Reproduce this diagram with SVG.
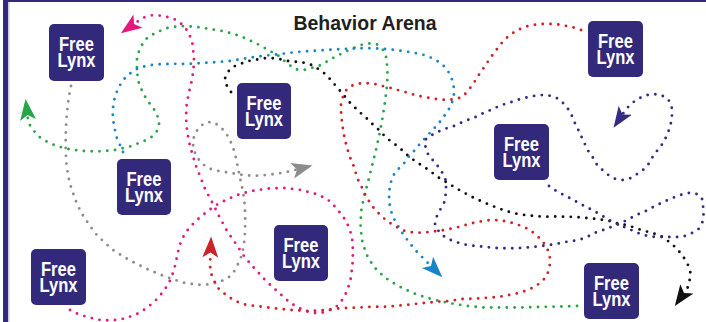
<svg xmlns="http://www.w3.org/2000/svg" width="706" height="322" viewBox="0 0 706 322">
<style>
.trk{fill:none;stroke-width:2.9;stroke-linecap:round;stroke-linejoin:round;stroke-dasharray:0 7.8}
.node rect{fill:#33297a}
.node text{fill:#ffffff;font-family:"Liberation Sans",Arial,sans-serif;font-weight:bold;font-size:19.5px;text-anchor:middle}
.title{fill:#231f20;font-family:"Liberation Sans",Arial,sans-serif;font-weight:bold;font-size:21px;text-anchor:middle}
</style>
<defs>
<marker id="aG" viewBox="0 0 22 18" refX="5" refY="9" markerWidth="22" markerHeight="18" markerUnits="userSpaceOnUse" orient="auto"><path d="M0,1 L21,9 L0,17 L5,9 Z" fill="#27a548"/></marker>
<marker id="aM" viewBox="0 0 22 18" refX="5" refY="9" markerWidth="22" markerHeight="18" markerUnits="userSpaceOnUse" orient="auto"><path d="M0,1 L21,9 L0,17 L5,9 Z" fill="#e2187f"/></marker>
<marker id="aY" viewBox="0 0 22 18" refX="5" refY="9" markerWidth="22" markerHeight="18" markerUnits="userSpaceOnUse" orient="auto"><path d="M0,1 L21,9 L0,17 L5,9 Z" fill="#8c8c8c"/></marker>
<marker id="aB" viewBox="0 0 22 18" refX="5" refY="9" markerWidth="22" markerHeight="18" markerUnits="userSpaceOnUse" orient="auto"><path d="M0,1 L21,9 L0,17 L5,9 Z" fill="#1a84c9"/></marker>
<marker id="aK" viewBox="0 0 22 18" refX="5" refY="9" markerWidth="22" markerHeight="18" markerUnits="userSpaceOnUse" orient="auto"><path d="M0,1 L21,9 L0,17 L5,9 Z" fill="#111111"/></marker>
<marker id="aR" viewBox="0 0 22 18" refX="5" refY="9" markerWidth="22" markerHeight="18" markerUnits="userSpaceOnUse" orient="auto"><path d="M0,1 L21,9 L0,17 L5,9 Z" fill="#cc2229"/></marker>
<marker id="aN" viewBox="0 0 22 18" refX="5" refY="9" markerWidth="22" markerHeight="18" markerUnits="userSpaceOnUse" orient="auto"><path d="M0,1 L21,9 L0,17 L5,9 Z" fill="#352a84"/></marker>
</defs>
<rect x="0" y="0" width="706" height="322" fill="#ffffff"/>
<g id="frame">
<rect x="3" y="0" width="703" height="2" fill="#33297a"/>
<rect x="3" y="0" width="5" height="322" fill="#33297a"/>
<rect x="8.5" y="2" width="0.8" height="320" fill="#9d98c6"/>
</g>
<text class="title" x="365" y="29.5" textLength="143" lengthAdjust="spacingAndGlyphs">Behavior Arena</text>
<g id="connectors">
<path id="green" class="trk" stroke="#27a548" marker-end="url(#aG)" d="M577,306 L560,306.5 L540,307 L520,307.5 L500,307.5 L482,307.5 L464,305.5 L449,303 L433,299.5 L418,295 L403,288.5 L389,280.5 L377,270.5 L368,258 L362.5,243 L360.5,228 L361,212 L364,197 L368,182 L372,166 L376,150 L379.5,134 L382.5,118 L385,102 L387,86 L387.5,72 L386.5,58 L383,50 L377,44.5 L369,43.5 L361,45 L347,51 L333,58 L319,66 L304,70 L296,69.5 L288,64 L278,55.5 L270,51 L255,42.7 L240,36 L225,31.5 L210,29 L195,26.7 L180,26 L167,28 L155,33 L146,39 L140,48 L137,58 L137,72 L139,84 L144,95 L150,104 L156,112 L159.5,122 L157,131 L151,137.5 L143,141.5 L130,146.5 L115,150 L98,151.5 L82,151 L65,148.5 L50,143.5 L40,137.5 L33,130 L28.5,123 L27.5,115"/>
<path id="magenta" class="trk" stroke="#e2187f" marker-end="url(#aM)" d="M70,310 L78,314 L87,317 L100,320 L112,320.5 L125,318.5 L137,314 L147,308 L156,300 L163,292 L168.5,284 L172,276 L175,266 L178,252 L181,241 L186,232 L191,226 L197,220 L203,215 L210,209.5 L218,204 L229,198.5 L240,194 L252,191 L268,188.5 L285,188 L301,190 L316,194 L324,197.5 L331,202 L336,208 L341,214 L346,221 L349.5,229 L352,237 L353,251 L352.5,265 L350.5,280 L347.5,290 L343,299 L337,306 L328,311 L319,313.5 L310,312.5 L299,308 L290,302.7 L278,292 L266,281 L255,269 L245,257.5 L236,244 L227,231 L220,218 L213,204 L205,189 L200,176 L196,166 L192,153 L189,142 L187,130 L186,118 L186.5,106 L188.5,94 L191.5,82 L193.5,70 L194,58 L192.5,44 L189,33 L183,25 L175,19.5 L163,15.7 L152,15.3 L144,17.5 L139,20.5 L134,24"/>
<path id="gray" class="trk" stroke="#8c8c8c" marker-end="url(#aY)" d="M71,86 L69,96 L67.5,108 L66.3,120 L65.7,135 L65.7,150 L66.3,163 L68,175 L70,184 L73,193 L77,204 L82,214 L88,223 L95,233 L103,241 L113,250 L124,257 L136,263.5 L148,269.5 L160,274.5 L172,279 L185,283 L198,284.8 L210,284.3 L220,281.7 L228,278 L233.5,272.5 L237,266 L240.5,259 L242.5,252 L244,244 L245,232 L245.2,220 L245,208 L244,198 L242,187 L240,178 L238,168 L236,158 L233,147 L229,138 L224,130.5 L218,125 L211.5,121.7 L204,123.3 L198,129 L194,136 L193,144 L194,151 L197.5,158 L202,163.5 L207,167.3 L213,170 L220,171.2 L228,172.5 L236,174 L245,175.3 L255,175.8 L266,175 L276,173.8 L286,172.3 L297,169.5"/>
<path id="blue" class="trk" stroke="#1a84c9" marker-end="url(#aB)" d="M123,152 L119.5,144 L116.5,137 L114.5,128 L113,119 L112.7,111 L113.5,103 L115.5,95 L118.5,88 L122,81.5 L127,76 L133,71 L140,67.5 L149,65.3 L158,64.4 L170,63.8 L185,64 L200,63.2 L215,62.2 L230,61 L246,58.3 L262,56 L278,54.3 L294,52.3 L310,51 L326,50 L342,49 L358,48.3 L374,48.3 L390,49.3 L406,51.5 L421,54 L429,56.8 L436,60 L443,65 L448,71 L451.5,78 L453.5,85 L454.3,92 L453,100 L450,107.5 L445,115 L440,121.7 L434,128.5 L428,135 L421,142.5 L414,151 L408,157.5 L403,165 L396,171 L392,178 L390,186 L389,194 L389.3,203 L391,211 L393.5,218 L397.5,225 L402,232.5 L407,239.5 L412,246 L418,253 L424,259 L431,266"/>
<path id="black" class="trk" stroke="#111111" marker-end="url(#aK)" d="M231,92 L226.5,85 L225,78.3 L229,70.7 L235,66 L242,63.3 L250,60.7 L258,59.3 L265,58.3 L273,58.3 L281,59.3 L288,61 L296,61.7 L304,62.7 L312,65 L318.3,69 L324.3,73.3 L330,79 L335,85 L340,90.7 L345,96.7 L350,102.7 L355.7,108.3 L361.7,114 L367.7,119.3 L373.3,125 L379,130 L384.3,135.7 L390,140.7 L396.7,145.7 L402.7,150.7 L408.3,156 L415,161 L421,165 L427.7,169.3 L434.3,174.3 L441,179.3 L447.3,182.7 L454,187 L461,191 L468.3,195 L475,198.3 L482.3,201.7 L490,205 L497,207.7 L504,210.3 L512,212.7 L519.3,214.3 L527.3,215.3 L535,216 L543.3,216.7 L558.3,216.5 L575,217 L590.7,218.3 L606.7,220.3 L615,222.7 L622.3,224.3 L630,226 L637,228.7 L645,231 L653,233.3 L661,236 L668,241 L674,246 L679.3,251.7 L684,258 L688,265 L690.5,273 L689.5,281 L687.5,288 L684,293"/>
<path id="red" class="trk" stroke="#cc2229" marker-end="url(#aR)" d="M581,30 L573,27.3 L565,25.7 L557,24.3 L549,24 L541,24 L533,25 L525,26.7 L517.7,30 L511,34.3 L505,39.3 L500,45 L495,51.7 L490,58.3 L485.7,65 L481,71.7 L476.7,78.3 L472.5,85 L467,92 L461.7,97.3 L454,99.3 L446,100 L438,99.3 L430.7,98.3 L422.7,96.7 L415,95 L407.7,92.7 L400,90.7 L392.3,88.3 L385,86.7 L376.7,84.3 L369,83.3 L361,83.3 L353.3,85 L346.7,89.3 L343,96.7 L341,104 L341,111.7 L341.7,119.3 L342.7,127.3 L344,135 L345.5,142 L347.7,150 L350,157.3 L353.3,165 L355.7,172.7 L358.3,180.3 L361.7,187 L365,194.3 L369.3,201.7 L374,208.3 L379,213.7 L385,219.3 L391,223.7 L397.7,227.7 L405,231 L413.3,232.5 L421,232.7 L429,232 L437,231 L445,230 L452.7,228.3 L460,226.7 L468,224.3 L475,222.5 L483,221 L491,220 L499,220.2 L506.7,221.5 L514.3,223.5 L521.7,226 L529,229.5 L535,234 L540.7,239.3 L545.7,245.5 L549,252.7 L550.3,260.3 L549.3,268.3 L546.7,276 L541.7,281.7 L535,286.7 L527.7,290 L520,292.7 L512.3,294.3 L504.3,296 L496.7,297 L488.3,297.7 L473.3,298.7 L464.3,298.7 L449.3,301 L433.3,302 L417.7,303.7 L401.7,305.3 L386.7,306.7 L371,306.8 L355,307.7 L339.3,308.3 L323.3,310.3 L307.7,311 L291.7,310 L276.7,308.5 L260.5,306.5 L251.7,305.5 L244.3,304.3 L237.3,301.7 L230,297.7 L224,293.3 L218.3,288.3 L214,280.7 L211,273.3 L210,265.7 L210.2,260 L210.5,252.5"/>
<path id="navy" class="trk" stroke="#352a84" marker-end="url(#aN)" d="M549,186 L557.3,191.7 L565,195.5 L571.7,199 L578.3,202.7 L585.7,206.7 L592.7,210.3 L600,214.3 L606.7,218.7 L614.3,222.7 L622,226 L630,229.5 L638,233 L646,235.5 L654,236.8 L660.7,237 L668.3,237 L676.7,237 L685,236 L692.7,232.7 L698.3,229.3 L702.3,222.7 L703.5,215 L703.3,208.3 L702.3,199.3 L698.3,194.3 L690,192.7 L682.3,194.3 L675,197 L667.7,200 L660.7,203.3 L653.3,207 L646,211 L639.3,213.7 L632.7,217 L625,221 L618.3,224.3 L611,227 L603.3,230 L596.7,232 L589,236 L581,239.3 L573.3,241 L565,242 L557.3,243.7 L549,245 L541,246 L532.7,247 L524.3,247.7 L516.7,248.3 L508.3,248.3 L500,248.3 L491.7,247.7 L483.3,246.7 L476,246 L468.3,245.3 L460,243.3 L452.3,240.7 L445,237.3 L438.3,230.7 L435,224 L436.7,216.7 L440,210 L444,203.3 L445.5,196 L446,188.3 L446,180.7 L442.7,173.3 L438.3,166.7 L433.3,160.7 L428.3,155 L425.5,147.3 L425,140 L431,135.5 L439,131.3 L446,128.5 L454,126 L461.7,122.5 L469,119.5 L476.7,116.5 L484,112.7 L490.7,110 L497.7,106.7 L505,104 L512.3,101.7 L519.3,99.3 L527.3,97.3 L535,95.7 L542.7,95 L550,95.7 L557.3,98.3 L563.3,103.3 L568.3,109.3 L572,116 L575,123.3 L578.3,130 L581.7,137.3 L585,144.3 L588.3,151 L592.7,157.3 L596.7,164.3 L602.7,170.3 L608.3,175 L615,178.7 L622.3,180 L630,178.3 L636.7,174.3 L642.7,170.3 L648.3,164.3 L651.7,158.3 L656.5,151.5 L661.7,145 L666,137.3 L669,130 L671,122.7 L672,115 L671.7,106.7 L668.3,99.3 L661,95 L652.7,94 L644.3,95.7 L637.3,99.3 L631,104 L626,109.3 L622.5,114.5"/>
</g>
<g id="node1" class="node"><rect x="49" y="24" width="55" height="57" rx="5"/><text x="76.5" y="50.5"><tspan x="76.5" textLength="35" lengthAdjust="spacingAndGlyphs">Free</tspan><tspan x="76.5" dy="16.5" textLength="38" lengthAdjust="spacingAndGlyphs">Lynx</tspan></text></g>
<g id="node2" class="node"><rect x="237" y="83" width="54" height="56" rx="5"/><text x="264" y="109.5"><tspan x="264" textLength="35" lengthAdjust="spacingAndGlyphs">Free</tspan><tspan x="264" dy="16.5" textLength="38" lengthAdjust="spacingAndGlyphs">Lynx</tspan></text></g>
<g id="node3" class="node"><rect x="588" y="21" width="55" height="56" rx="5"/><text x="615.5" y="47.5"><tspan x="615.5" textLength="35" lengthAdjust="spacingAndGlyphs">Free</tspan><tspan x="615.5" dy="16.5" textLength="38" lengthAdjust="spacingAndGlyphs">Lynx</tspan></text></g>
<g id="node4" class="node"><rect x="494" y="124" width="55" height="56" rx="5"/><text x="521.5" y="150.5"><tspan x="521.5" textLength="35" lengthAdjust="spacingAndGlyphs">Free</tspan><tspan x="521.5" dy="16.5" textLength="38" lengthAdjust="spacingAndGlyphs">Lynx</tspan></text></g>
<g id="node5" class="node"><rect x="117" y="159" width="54" height="56" rx="5"/><text x="144" y="185.5"><tspan x="144" textLength="35" lengthAdjust="spacingAndGlyphs">Free</tspan><tspan x="144" dy="16.5" textLength="38" lengthAdjust="spacingAndGlyphs">Lynx</tspan></text></g>
<g id="node6" class="node"><rect x="31" y="249" width="55" height="56" rx="5"/><text x="58.5" y="275.5"><tspan x="58.5" textLength="35" lengthAdjust="spacingAndGlyphs">Free</tspan><tspan x="58.5" dy="16.5" textLength="38" lengthAdjust="spacingAndGlyphs">Lynx</tspan></text></g>
<g id="node7" class="node"><rect x="274" y="225" width="54" height="56" rx="5"/><text x="301" y="251.5"><tspan x="301" textLength="35" lengthAdjust="spacingAndGlyphs">Free</tspan><tspan x="301" dy="16.5" textLength="38" lengthAdjust="spacingAndGlyphs">Lynx</tspan></text></g>
<g id="node8" class="node"><rect x="584" y="263" width="55" height="56" rx="5"/><text x="611.5" y="289.5"><tspan x="611.5" textLength="35" lengthAdjust="spacingAndGlyphs">Free</tspan><tspan x="611.5" dy="16.5" textLength="38" lengthAdjust="spacingAndGlyphs">Lynx</tspan></text></g>
</svg>
